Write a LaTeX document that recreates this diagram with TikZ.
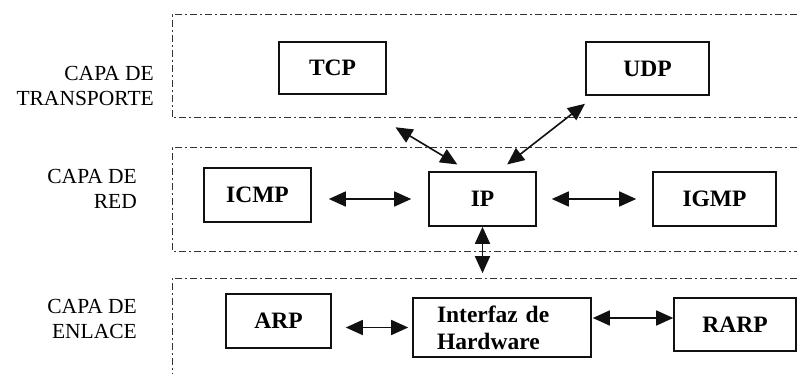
\documentclass[tikz,border=0pt]{standalone}
\usepackage{fontspec}
\setmainfont{Liberation Serif}
\usepackage{tikz}
\usetikzlibrary{arrows.meta,calc}
\definecolor{cLine}{HTML}{111111}
\definecolor{cBand}{HTML}{333333}
\tikzset{
  proto/.style={draw=cLine, line width=1.6pt, font=\fontsize{23.5}{27}\selectfont\bfseries,
                inner sep=0pt, align=center},
  layer/.style={font=\fontsize{21.5}{25}\selectfont, align=right, anchor=east, inner sep=0pt},
  band/.style={draw=cBand, line width=1pt, dash pattern=on 7pt off 3pt on 2pt off 3pt},
  dbl/.style={{Triangle[length=17pt,width=15pt]}-{Triangle[length=17pt,width=15pt]},
              line width=1.6pt, draw=cLine},
}
\begin{document}
\begin{tikzpicture}[x=1pt,y=-1pt]
  \useasboundingbox (0,0) rectangle (797,374);
  % capas
  \draw[band] (797,15) -- (172,15) -- (172,118) -- (797,118);
  \draw[band] (797,148) -- (172,148) -- (172,251) -- (797,251);
  \draw[band] (797,278) -- (172,278) -- (172,374);
  \node[layer] (ltrans) at (154,86) {CAPA DE\\TRANSPORTE};
  \node[layer] (lred) at (137,189) {CAPA DE\\RED};
  \node[layer] (lenl) at (137,319) {CAPA DE\\ENLACE};
  % protocolos
  \node[proto, minimum width=107pt, minimum height=52pt] (tcp) at (332.5,68) {TCP};
  \node[proto, minimum width=123pt, minimum height=53pt] (udp) at (647.5,68.5) {UDP};
  \node[proto, minimum width=107pt, minimum height=54pt] (icmp) at (257.5,195) {ICMP};
  \node[proto, minimum width=107pt, minimum height=54pt] (ip) at (482.5,199) {IP};
  \node[proto, minimum width=123pt, minimum height=54pt] (igmp) at (714.5,199) {IGMP};
  \node[proto, minimum width=105pt, minimum height=54pt] (arp) at (278.5,321) {ARP};
  \node[proto, minimum width=178pt, minimum height=59pt, text width=130pt, align=left] (iface) at (502,327.5) {Interfaz de\\Hardware};
  \node[proto, minimum width=122pt, minimum height=53pt] (rarp) at (735,324.5) {RARP};
  % enlaces
  \draw[dbl, shorten <=63pt, shorten >=13pt] ([xshift=9pt]tcp.south) -- ([xshift=-14pt]ip.north);
  \draw[dbl, shorten <=13pt, shorten >=11pt] ([xshift=10pt]udp.south west) -- ([xshift=16pt]ip.north);
  \draw[dbl, shorten <=17pt, shorten >=17pt] (icmp.east |- ip.west) -- (ip.west);
  \draw[dbl, shorten <=15pt, shorten >=16pt] (ip.east) -- (igmp.west);
  \draw[dbl, shorten >=24pt] (ip.south) -- (ip.south |- iface.north);
  \draw[dbl, shorten <=14pt, shorten >=4pt] (arp.east |- iface.west) -- (iface.west);
  \draw[dbl, shorten <=1pt] ([yshift=9.5pt]iface.east) -- ([yshift=6.5pt]rarp.west);
\end{tikzpicture}
\end{document}
